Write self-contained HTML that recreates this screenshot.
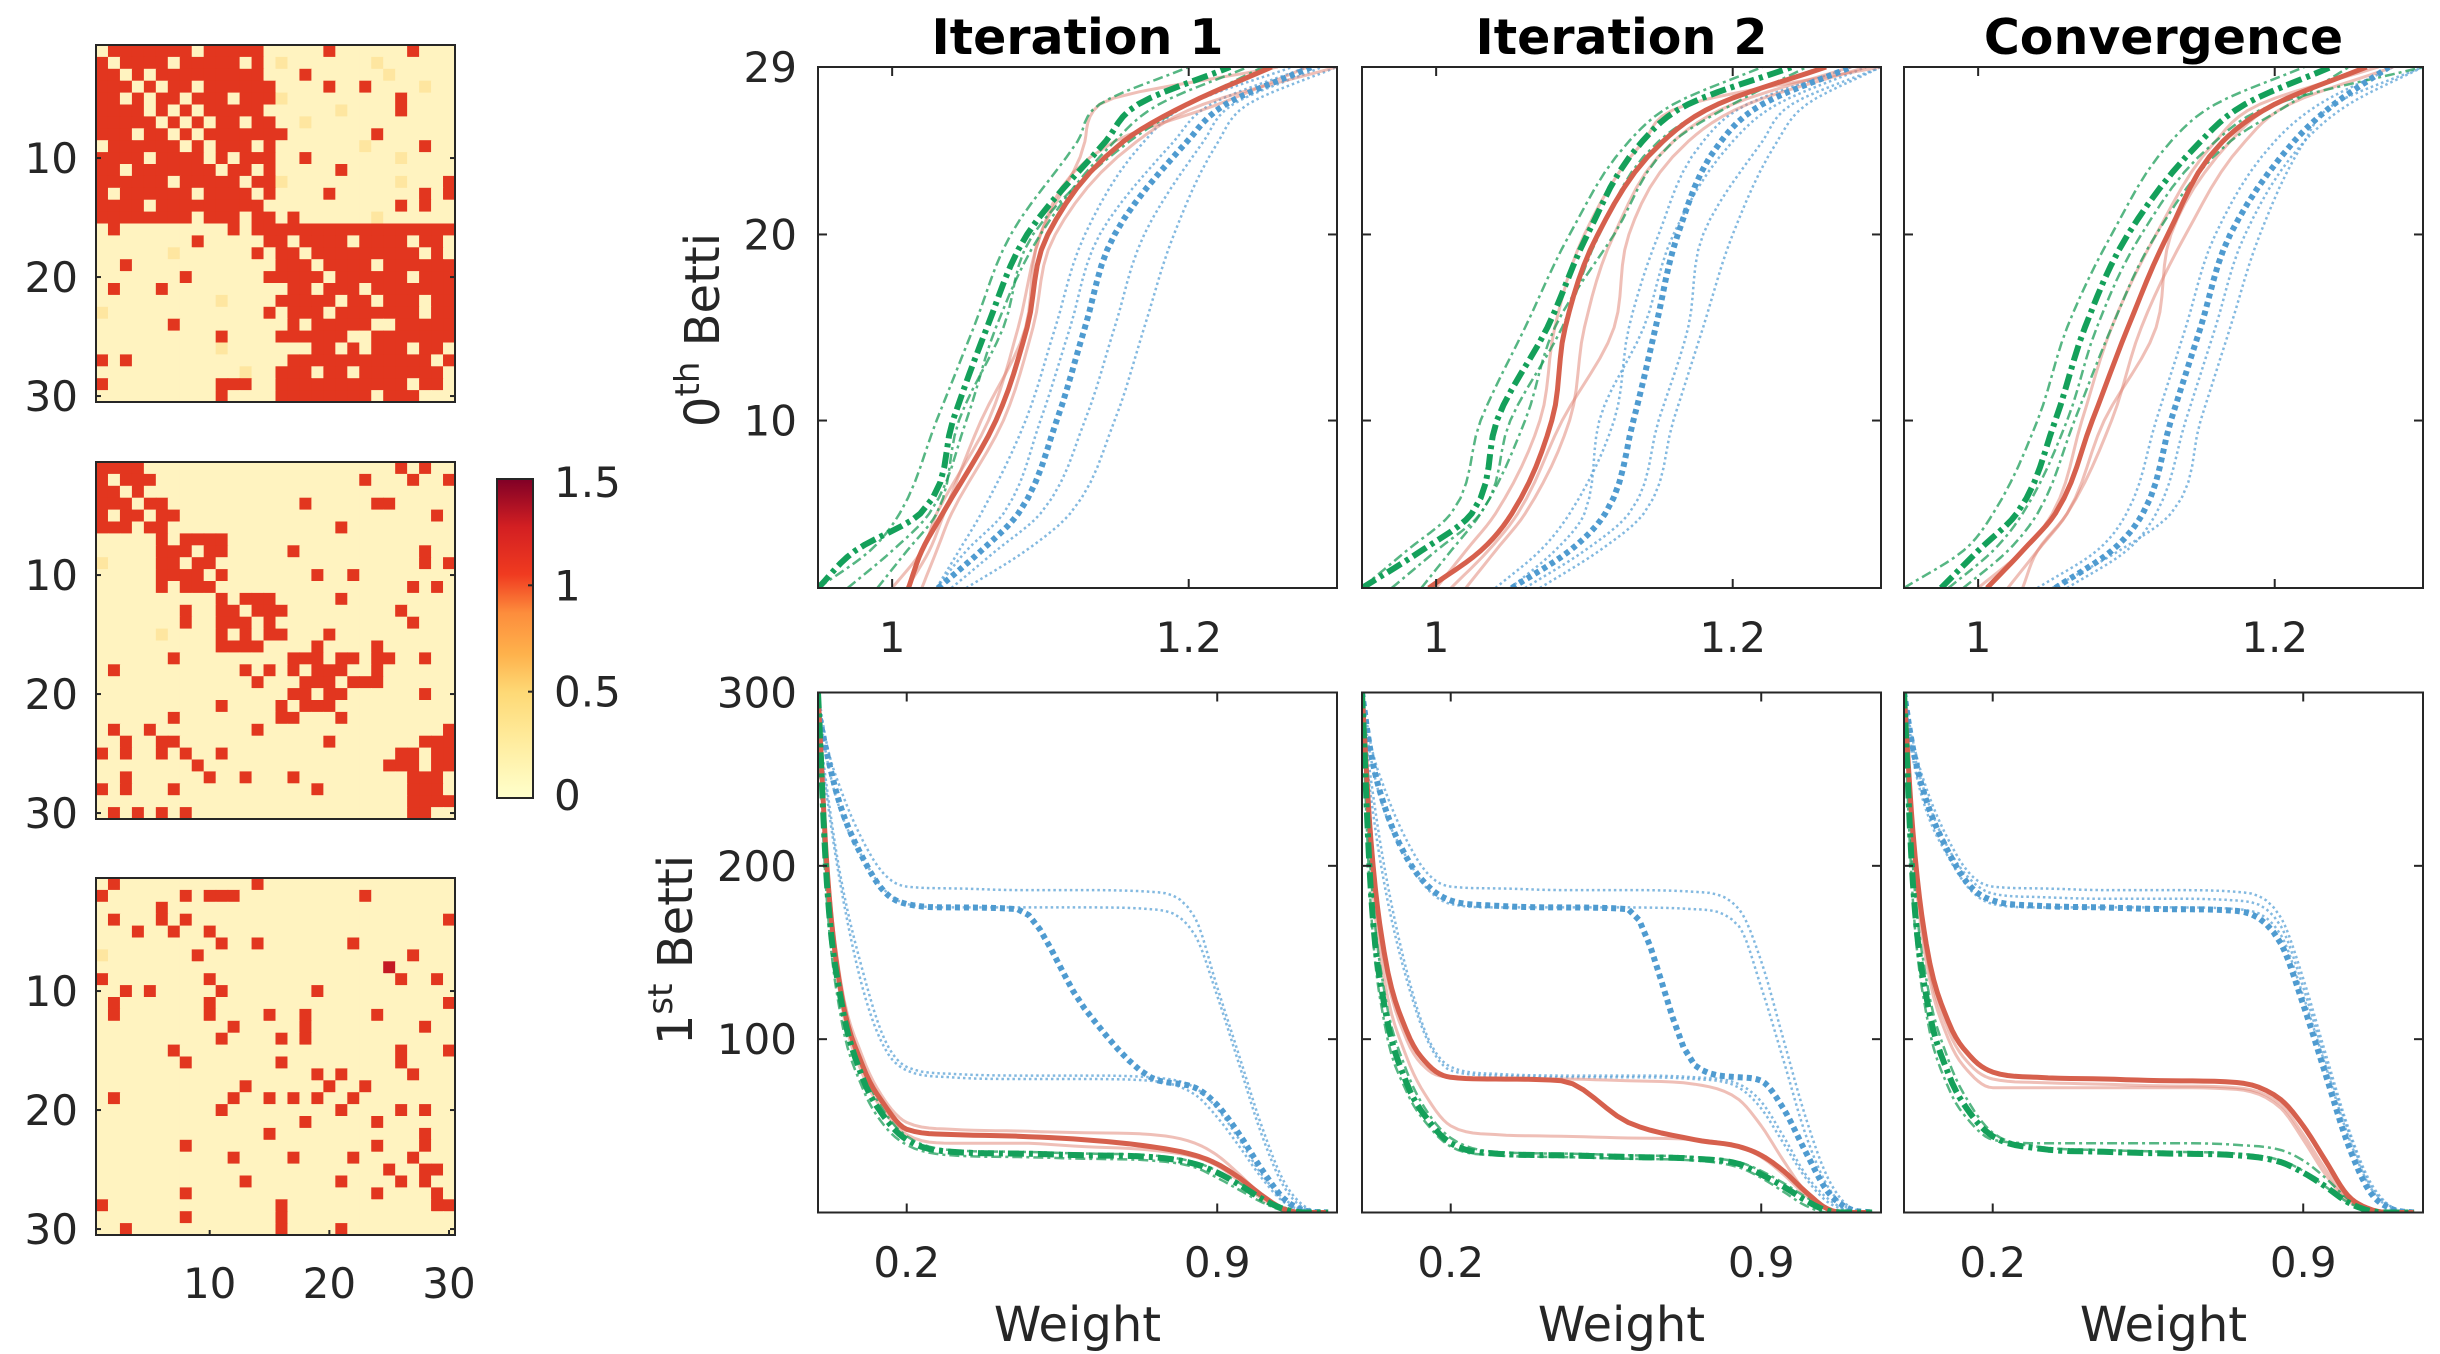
<!DOCTYPE html>
<html><head><meta charset="utf-8">
<style>
html,body{margin:0;padding:0;background:#fff;}
svg{display:block;}
text{font-family:"DejaVu Sans","Liberation Sans",sans-serif;fill:#262626;}
.t{font-family:"DejaVu Sans","Liberation Sans",sans-serif;font-weight:bold;fill:#000;font-size:49px;}
</style></head>
<body>
<svg id="fig" width="2440" height="1354" viewBox="0 0 2440 1354" xmlns="http://www.w3.org/2000/svg"></svg>
<script>
// ---------------- heatmap data (levels: . pale, : light, r red, R dark red) ----------------
const hm1Rows = [
".rrrrrrr.rrrrr.....r......r..","r.rrrr.rrrrr.r.:.......:......","rr.r.rrrrrrrrr...r......:.....","rrr.r.rr.rrrrrr....r..r....:..",
"rr.r.rr.rrr.rrr:.........r....","rrrr.r.r.rrrrr......:....r....","rrrrr.r.r.rr.rr..:............","rrr.rr.r.rrrrrrr.......r......",
".rrrrrr.r.rrr.r.......:....r..","rrrr.rrrr.r.rrr..r.......:....","rr.rrrrrrr.rr.r.....r.........","rrrrrr.rrrrr.rr:.........:...r.",
"r.rrrrrr.rrrr.r....r.......r.r","rrrr.rrrrrrrrr...........r.r..","rrrrrrrr.rrr.rr.r......:......",".r.........r.rrrrrrrrrrrrrrrrr",
"........r.....rr.rrrr.rrrr.rr","......:......r.rr.rrrrrrrrr.r.","..r............rrr.rrrr.rrrrrr",".......r......rrrrr.rrrrrr.rrr",
".r...r..........rr.rrr.rrrrrrrr","..........:....rrrrr.rr.rrr.rr",":.............r.rrr.rrrrrrr.rrr","......r.........r.rrrrr..rrrrr.",
"..........r....rrrrrr..rrrrrrr","..........:.......rr.r.rrr.rr.rrr","r.r.............rrrrrrrrrrrr.rr","............:..rrr.rr.rrrrrrr.",
"r.........rrr..rrrrrrrrrrr.rr.r","..........r....rrrrrrrr.rrr.."];
const hm2Rows = [
"rrrr.....................r.r","r.rrr.................r...r..r","rr.r..........................","rrr.rr...........r.....rr....",
"r.rr.rr.....................r....r","rrr.rr..............r.........",".....r.rrrr...................",".....rrr.rr.....r..........r...",
":....rr.rr.................r.rr",".....rrrr.r.......r..r.........",".....r.rrr................r.r.","..........r.rrr.....r.........",
".......r..rr.rrr.........r....",".......r..rrr.r...........r...",".....:....r.r.rr...r..........","..........rrrr....r....r......",
"......r.........rrr.rr.rr..r..",".r..........r.r.r.rrr..r.....",".............r...rrr.rrr......","................rr.rr......r..",
"..........r....r.rrr..........","......r........rr...r.........",".r..r........r...............r","..r..rr............r.......rrrr",
"r.r..r.r..r..............rr.rr.","........r...............rrr.rr","..r......r..r...r.........rrr..r","r.r...r...........r.......rrr.rr",
"..........................rrrr.",".r.r.r.r..................rr..."];
const hm3Rows = [
".r...........r................","r......r.rrr..........r.......",".....r........................",".r...r.r.....................r",
"...r..r..r....................","..........r..r.......r........",":.......r.................r...","........................R.....",
"r........r...............r..r.","..r.r.....r.......r..........",".r.......r...................r",".r.......r....r..r.....r......",
"...........r.....r.........r..","..........r....r.r............","......r..................r...r",".......r.......r.........r....",
"..................r.r.....r....","............r......r..r.......",".r.........r..r.r.r..r........","..........r.........r....r.r...",
".................r.....r......","..............r............r..",".......r...............r...r..","...........r....r....r....r...",
"........................r..rr...","............r.......r....r.r..",".......r...............r....r.","r..............r............rr.",
".......r.......r..............r..r","..r............r....r........."];
const cbTicks = [0, 0.5, 1, 1.5];
const cbLabels = ["0", "0.5", "1", "1.5"];
const hmTickVals = [10, 20, 30];

// ---------------- Betti-0 (top) data ----------------
const b0Levels = [1, 3, 5, 10, 15, 20, 25, 27, 29];
const b0XTicks = [1, 1.2];
const b0XTickLabels = ["1", "1.2"];
const b0YTicks = [10, 20, 29];
const b0YTickLabels = ["10", "20", "29"];
const p1GreenMean = [0.95,0.975,1.019,1.041,1.064,1.091,1.144,1.166,1.228];
const p1GreenA = [0.95,0.985,1.005,1.03,1.055,1.08,1.125,1.14,1.2];
const p1GreenB = [0.97,1.0,1.025,1.05,1.07,1.1,1.15,1.18,1.24];
const p1GreenC = [0.99,1.01,1.03,1.045,1.075,1.095,1.16,1.2,1.25];
const p1RedMean = [1.011,1.02,1.034,1.07,1.091,1.105,1.156,1.199,1.256];
const p1RedA = [1.0,1.02,1.03,1.065,1.085,1.1,1.13,1.14,1.26];
const p1RedB = [1.02,1.03,1.04,1.075,1.095,1.11,1.165,1.21,1.3];
const p1RedC = [1.01,1.025,1.035,1.06,1.09,1.1,1.15,1.22,1.28];
const p1BlueMean = [1.031,1.06,1.085,1.111,1.13,1.15,1.199,1.225,1.283];
const p1BlueA = [1.03,1.045,1.06,1.09,1.11,1.13,1.17,1.2,1.27];
const p1BlueB = [1.04,1.07,1.1,1.13,1.15,1.17,1.21,1.23,1.29];
const p1BlueC = [1.05,1.09,1.12,1.15,1.17,1.19,1.22,1.24,1.3];
const p1BlueD = [1.03,1.05,1.075,1.1,1.12,1.14,1.19,1.215,1.28];
const p2GreenMean = [0.95,0.99,1.024,1.041,1.075,1.102,1.139,1.17,1.24];
const p2GreenA = [0.95,0.98,1.01,1.03,1.06,1.09,1.13,1.16,1.22];
const p2GreenB = [0.97,1.0,1.03,1.05,1.085,1.11,1.15,1.19,1.26];
const p2GreenC = [0.99,1.01,1.03,1.06,1.08,1.12,1.16,1.2,1.25];
const p2RedMean = [0.995,1.03,1.051,1.078,1.087,1.109,1.153,1.19,1.263];
const p2RedA = [1.0,1.02,1.04,1.07,1.08,1.1,1.14,1.17,1.3];
const p2RedB = [1.02,1.04,1.06,1.09,1.1,1.12,1.16,1.2,1.28];
const p2RedC = [1.01,1.035,1.055,1.085,1.12,1.13,1.17,1.21,1.29];
const p2BlueMean = [1.051,1.09,1.114,1.133,1.148,1.163,1.192,1.22,1.28];
const p2BlueA = [1.04,1.07,1.09,1.12,1.13,1.15,1.18,1.21,1.28];
const p2BlueB = [1.06,1.1,1.13,1.15,1.17,1.18,1.22,1.24,1.3];
const p2BlueC = [1.05,1.08,1.1,1.11,1.14,1.16,1.2,1.23,1.29];
const p2BlueD = [1.07,1.11,1.14,1.16,1.18,1.2,1.23,1.25,1.3];
const p3GreenMean = [0.975,1.0,1.026,1.052,1.072,1.101,1.15,1.18,1.238];
const p3GreenA = [0.95,0.99,1.01,1.04,1.06,1.09,1.13,1.16,1.22];
const p3GreenB = [0.98,1.01,1.03,1.06,1.08,1.11,1.16,1.2,1.3];
const p3GreenC = [0.99,1.02,1.04,1.065,1.09,1.12,1.17,1.21,1.25];
const p3RedMean = [1.006,1.03,1.052,1.077,1.101,1.128,1.165,1.2,1.262];
const p3RedA = [1.0,1.03,1.05,1.07,1.09,1.12,1.16,1.19,1.27];
const p3RedB = [1.03,1.04,1.06,1.09,1.11,1.14,1.18,1.21,1.28];
const p3RedC = [1.02,1.04,1.06,1.085,1.12,1.13,1.17,1.2,1.26];
const p3BlueMean = [1.052,1.09,1.111,1.13,1.15,1.17,1.213,1.24,1.277];
const p3BlueA = [1.04,1.08,1.1,1.12,1.14,1.16,1.2,1.23,1.28];
const p3BlueB = [1.06,1.1,1.12,1.14,1.16,1.18,1.22,1.25,1.3];
const p3BlueC = [1.05,1.095,1.13,1.15,1.17,1.19,1.22,1.24,1.3];

// ---------------- Betti-1 (bottom) data ----------------
const b1Weights = [0,0.02,0.05,0.1,0.15,0.2,0.3,0.45,0.6,0.75,0.85,0.9,0.95,1.0,1.05,1.1,1.15];
const b1XTicks = [0.2, 0.9];
const b1XTickLabels = ["0.2", "0.9"];
const b1YTicks = [100, 200, 300];
const b1YTickLabels = ["100", "200", "300"];
const q1GreenMean = [300,190,125,78,55,42,35,34,33,32,28,23,16,8,2,0,0];
const q1GreenA = [280,180,115,72,50,39,33,32,31,30,26,20,13,6,1,0,0];
const q1GreenB = [300,200,132,84,58,44,36,35,34,33,29,24,17,9,3,0,0];
const q1RedMean = [300,200,130,85,62,48,45,44,42,38,33,28,20,10,2,0,0];
const q1RedA = [300,205,135,90,65,52,48,47,46,45,40,33,22,10,2,0,0];
const q1RedB = [290,195,125,80,58,45,40,40,38,36,32,27,18,8,1,0,0];
const q1BlueMean = [290,265,235,205,185,178,176,175,118,78,72,62,45,25,8,1,0];
const q1BlueA = [300,270,245,215,195,188,187,186,186,185,170,130,90,50,18,3,0];
const q1BlueB = [295,262,232,205,186,178,176,176,176,175,160,125,85,45,15,2,0];
const q1BlueC = [280,240,190,130,95,82,78,77,77,76,68,55,38,20,6,1,0];
const q1BlueD = [285,245,195,140,100,84,80,79,79,78,72,60,42,22,8,1,0];
const q2GreenMean = [300,185,120,75,53,40,34,33,32,31,28,22,15,7,1,0,0];
const q2GreenA = [290,175,110,70,50,38,33,32,31,30,26,20,12,4,0,0,0];
const q2GreenB = [300,195,128,82,57,43,35,34,33,32,29,24,17,9,2,0,0];
const q2RedMean = [300,215,150,105,85,78,77,76,52,42,38,33,24,12,2,0,0];
const q2RedA = [300,210,145,100,82,78,77,77,76,74,65,50,30,12,2,0,0];
const q2RedB = [295,200,135,90,65,50,45,44,43,42,38,32,22,10,2,0,0];
const q2BlueMean = [300,265,235,205,188,180,177,176,175,85,78,76,60,35,12,2,0];
const q2BlueA = [300,270,245,215,195,188,187,186,186,185,175,145,100,55,20,3,0];
const q2BlueB = [295,262,232,205,186,178,176,176,176,175,165,130,88,45,15,2,0];
const q2BlueC = [285,240,190,135,98,82,79,78,78,77,72,60,40,20,6,1,0];
const q2BlueD = [290,250,200,140,100,84,80,79,79,78,74,64,44,22,8,1,0];
const q3GreenMean = [300,190,125,80,57,44,37,35,34,33,29,23,15,6,1,0,0];
const q3GreenA = [290,180,115,72,52,42,40,40,40,39,36,30,20,8,1,0,0];
const q3GreenB = [300,200,135,88,62,46,38,36,35,34,30,24,15,6,1,0,0];
const q3RedMean = [300,220,155,110,90,81,78,77,76,75,65,50,30,10,2,0,0];
const q3RedA = [300,215,150,105,85,77,75,74,73,72,62,45,25,8,1,0,0];
const q3RedB = [295,210,145,100,80,72,72,72,72,71,60,42,22,7,1,0,0];
const q3BlueMean = [300,268,238,208,188,180,177,176,175,174,155,120,80,40,12,2,0];
const q3BlueA = [300,272,245,215,195,188,187,186,186,185,170,135,92,50,18,3,0];
const q3BlueB = [295,262,232,205,186,178,176,176,176,175,160,125,85,45,15,2,0];
const q3BlueC = [298,268,240,210,192,184,182,181,181,180,165,130,88,48,16,3,0];

const titles = ["Iteration 1", "Iteration 2", "Convergence"];

// ---------------- rendering ----------------
const NS = "http://www.w3.org/2000/svg";
const svg = document.getElementById("fig");
function mk(tag, attrs, parent) {
  const e = document.createElementNS(NS, tag);
  for (const k in attrs) e.setAttribute(k, attrs[k]);
  (parent || svg).appendChild(e);
  return e;
}
// monotone cubic interpolation (Fritsch-Carlson); xs increasing
function monoSample(xs, ys, steps) {
  const n = xs.length, d = [], m = new Array(n);
  for (let i = 0; i < n - 1; i++) d.push((ys[i + 1] - ys[i]) / (xs[i + 1] - xs[i]));
  m[0] = d[0]; m[n - 1] = d[n - 2];
  for (let i = 1; i < n - 1; i++) m[i] = (d[i - 1] * d[i] <= 0) ? 0 : (d[i - 1] + d[i]) / 2;
  for (let i = 0; i < n - 1; i++) {
    if (d[i] === 0) { m[i] = 0; m[i + 1] = 0; continue; }
    const a = m[i] / d[i], b = m[i + 1] / d[i], s = a * a + b * b;
    if (s > 9) { const t = 3 / Math.sqrt(s); m[i] = t * a * d[i]; m[i + 1] = t * b * d[i]; }
  }
  const out = [];
  for (let i = 0; i < n - 1; i++) {
    const h = xs[i + 1] - xs[i];
    for (let k = 0; k < steps; k++) {
      const t = k / steps, t2 = t * t, t3 = t2 * t;
      const y = (2 * t3 - 3 * t2 + 1) * ys[i] + (t3 - 2 * t2 + t) * h * m[i] + (-2 * t3 + 3 * t2) * ys[i + 1] + (t3 - t2) * h * m[i + 1];
      out.push([xs[i] + t * h, y]);
    }
  }
  out.push([xs[n - 1], ys[n - 1]]);
  return out;
}
const cellColor = {".": "#fff3c0", ":": "#fee6a0", "r": "#e2361f", "R": "#c41a24"};
const hmTops = [45, 462, 878];
const hmRowsAll = [hm1Rows, hm2Rows, hm3Rows];
const HM_L = 96, HM_W = 359, HM_H = 357;
hmRowsAll.forEach((rows, hi) => {
  const g = mk("g", {});
  
  
  const top = hmTops[hi], cw = HM_W / 30, ch = HM_H / 30;
  for (let r = 0; r < 30; r++) {
    const row = (rows[r] || "").replace(/\s/g, "");
    for (let c = 0; c < 30; c++) {
      const ch0 = row[c] || ".";
      const rc = mk("rect", {x: (HM_L + c * cw).toFixed(2), y: (top + r * ch).toFixed(2), width: (cw + 0.6).toFixed(2), height: (ch + 0.6).toFixed(2), fill: cellColor[ch0] || cellColor["."]}, g);
      
      
    }
  }
  const box = mk("rect", {x: HM_L, y: top, width: HM_W, height: HM_H, fill: "none", stroke: "#262626", "stroke-width": 2}, g);
  
  
  hmTickVals.forEach(v => {
    const y = top + (v - 0.5) * ch;
    mk("line", {x1: HM_L, x2: HM_L + 5, y1: y, y2: y, stroke: "#262626", "stroke-width": 2}, g);
    mk("line", {x1: HM_L + HM_W, x2: HM_L + HM_W - 5, y1: y, y2: y, stroke: "#262626", "stroke-width": 2}, g);
    const t = mk("text", {x: 78, y: y + 15, "text-anchor": "end", "font-size": 42}, g);
    t.textContent = String(v);
    
    
  });
  if (hi === 2) {
    hmTickVals.forEach(v => {
      const x = HM_L + (v - 0.5) * cw;
      mk("line", {x1: x, x2: x, y1: top + HM_H, y2: top + HM_H - 5, stroke: "#262626", "stroke-width": 2}, g);
      const t = mk("text", {x: x, y: 1298, "text-anchor": "middle", "font-size": 42}, g);
      t.textContent = String(v);
      
      
    });
  }
});
const defs = mk("defs", {});
const grad = mk("linearGradient", {id: "ylorrd", x1: 0, y1: 1, x2: 0, y2: 0}, defs);
[["0", "#ffffcc"], ["0.17", "#ffeda0"], ["0.33", "#fed976"], ["0.45", "#feb24c"], ["0.58", "#fd8d3c"], ["0.7", "#f03b20"], ["0.85", "#d31f22"], ["1", "#800026"]].forEach(s => mk("stop", {offset: s[0], "stop-color": s[1]}, grad));
const CB_T = 479, CB_B = 798, CB_L = 497, CB_W = 36;
const cb = mk("rect", {x: CB_L, y: CB_T, width: CB_W, height: CB_B - CB_T, fill: "url(#ylorrd)", stroke: "#262626", "stroke-width": 2});


cbTicks.forEach((v, i) => {
  const y = CB_B - v / 1.5 * (CB_B - CB_T);
  mk("line", {x1: CB_L + CB_W, x2: CB_L + CB_W - 5, y1: y, y2: y, stroke: "#262626", "stroke-width": 2});
  const t = mk("text", {x: 554, y: y + 15 + (i === 0 ? -3 : 0) + (i === 3 ? 3 : 0), "font-size": 42});
  t.textContent = cbLabels[i];
  
  
});

const styles = {
  gm: {stroke: "#14a05a", "stroke-width": 6, "stroke-dasharray": "16,5,4,5", opacity: 1},
  gt: {stroke: "#1e9e5a", "stroke-width": 2.5, "stroke-dasharray": "10,4,3,4", opacity: 0.75},
  rm: {stroke: "#d6604d", "stroke-width": 5, opacity: 1},
  rt: {stroke: "#e08070", "stroke-width": 3, opacity: 0.5},
  bm: {stroke: "#4f9bd0", "stroke-width": 6, "stroke-dasharray": "5,4", opacity: 1},
  bt: {stroke: "#5aa2d6", "stroke-width": 2.5, "stroke-dasharray": "2.5,3", opacity: 0.75}
};
const PANEL_L = [818, 1362, 1904], PANEL_W = 519;
const TOP_T = 67, TOP_B = 588, BOT_T = 692.5, BOT_B = 1212.5;

const topSeries = [
  [[p1BlueA,"bt"],[p1BlueB,"bt"],[p1BlueC,"bt"],[p1BlueD,"bt"],[p1RedA,"rt"],[p1RedB,"rt"],[p1RedC,"rt"],[p1GreenA,"gt"],[p1GreenB,"gt"],[p1GreenC,"gt"],[p1BlueMean,"bm"],[p1RedMean,"rm"],[p1GreenMean,"gm"]],
  [[p2BlueA,"bt"],[p2BlueB,"bt"],[p2BlueC,"bt"],[p2BlueD,"bt"],[p2RedA,"rt"],[p2RedB,"rt"],[p2RedC,"rt"],[p2GreenA,"gt"],[p2GreenB,"gt"],[p2GreenC,"gt"],[p2BlueMean,"bm"],[p2RedMean,"rm"],[p2GreenMean,"gm"]],
  [[p3BlueA,"bt"],[p3BlueB,"bt"],[p3BlueC,"bt"],[p3RedA,"rt"],[p3RedB,"rt"],[p3RedC,"rt"],[p3GreenA,"gt"],[p3GreenB,"gt"],[p3GreenC,"gt"],[p3BlueMean,"bm"],[p3RedMean,"rm"],[p3GreenMean,"gm"]]
];
const botSeries = [
  [[q1BlueA,"bt"],[q1BlueB,"bt"],[q1BlueC,"bt"],[q1BlueD,"bt"],[q1RedA,"rt"],[q1RedB,"rt"],[q1GreenA,"gt"],[q1GreenB,"gt"],[q1BlueMean,"bm"],[q1RedMean,"rm"],[q1GreenMean,"gm"]],
  [[q2BlueA,"bt"],[q2BlueB,"bt"],[q2BlueC,"bt"],[q2BlueD,"bt"],[q2RedA,"rt"],[q2RedB,"rt"],[q2GreenA,"gt"],[q2GreenB,"gt"],[q2BlueMean,"bm"],[q2RedMean,"rm"],[q2GreenMean,"gm"]],
  [[q3BlueA,"bt"],[q3BlueB,"bt"],[q3BlueC,"bt"],[q3RedA,"rt"],[q3RedB,"rt"],[q3GreenA,"gt"],[q3GreenB,"gt"],[q3BlueMean,"bm"],[q3RedMean,"rm"],[q3GreenMean,"gm"]]
];
const seriesName = {gm: "random-mean-line", gt: "random-sample-line", rm: "modular-mean-line", rt: "modular-sample-line", bm: "block-mean-line", bt: "block-sample-line"};

function axesFrame(L, T, B, name) {
  const r = mk("rect", {x: L, y: T, width: PANEL_W, height: B - T, fill: "none", stroke: "#262626", "stroke-width": 2});
  
  
}
for (let p = 0; p < 3; p++) {
  const L = PANEL_L[p];
  const sxT = x => L + (x - 0.95) / 0.35 * PANEL_W;
  const syT = v => TOP_T + (29 - v) / 28 * (TOP_B - TOP_T);
  mk("rect", {x: L, y: TOP_T, width: PANEL_W, height: TOP_B - TOP_T}, mk("clipPath", {id: "ct" + p}, defs));
  const gT = mk("g", {"clip-path": "url(#ct" + p + ")", fill: "none"});
  
  
  topSeries[p].forEach(s => {
    const pts = monoSample(b0Levels, s[0], 6).map(q => sxT(q[1]).toFixed(1) + "," + syT(q[0]).toFixed(1)).join(" ");
    const pl = mk("polyline", Object.assign({points: pts, fill: "none", "stroke-linejoin": "round"}, styles[s[1]]), gT);
    
    
  });
  axesFrame(L, TOP_T, TOP_B, 'betti0-axes-' + (p + 1));
  b0XTicks.forEach((v, i) => {
    const x = sxT(v);
    mk("line", {x1: x, x2: x, y1: TOP_B, y2: TOP_B - 9, stroke: "#262626", "stroke-width": 2});
    mk("line", {x1: x, x2: x, y1: TOP_T, y2: TOP_T + 9, stroke: "#262626", "stroke-width": 2});
    const t = mk("text", {x: x, y: 652, "text-anchor": "middle", "font-size": 42});
    t.textContent = b0XTickLabels[i];
    
    
  });
  b0YTicks.forEach((v, i) => {
    const y = syT(v);
    mk("line", {x1: L, x2: L + 9, y1: y, y2: y, stroke: "#262626", "stroke-width": 2});
    mk("line", {x1: L + PANEL_W, x2: L + PANEL_W - 9, y1: y, y2: y, stroke: "#262626", "stroke-width": 2});
    if (p === 0) {
      const t = mk("text", {x: 797, y: y + 15, "text-anchor": "end", "font-size": 42});
      t.textContent = b0YTickLabels[i];
      
      
    }
  });
  const tt = mk("text", {x: L + PANEL_W / 2, y: 54, "text-anchor": "middle", class: "t"});
  tt.textContent = titles[p];
  
  

  const sxB = x => L + x / 1.17 * PANEL_W;
  const syB = v => BOT_B - v / 300 * (BOT_B - BOT_T);
  mk("rect", {x: L, y: BOT_T, width: PANEL_W, height: BOT_B - BOT_T}, mk("clipPath", {id: "cb" + p}, defs));
  const gB = mk("g", {"clip-path": "url(#cb" + p + ")", fill: "none"});
  
  
  botSeries[p].forEach(s => {
    const pts = monoSample(b1Weights, s[0], 6).map(q => sxB(q[0]).toFixed(1) + "," + syB(q[1]).toFixed(1)).join(" ");
    const pl = mk("polyline", Object.assign({points: pts, fill: "none", "stroke-linejoin": "round"}, styles[s[1]]), gB);
    
    
  });
  axesFrame(L, BOT_T, BOT_B, 'betti1-axes-' + (p + 1));
  b1XTicks.forEach((v, i) => {
    const x = sxB(v);
    mk("line", {x1: x, x2: x, y1: BOT_B, y2: BOT_B - 9, stroke: "#262626", "stroke-width": 2});
    mk("line", {x1: x, x2: x, y1: BOT_T, y2: BOT_T + 9, stroke: "#262626", "stroke-width": 2});
    const t = mk("text", {x: x, y: 1277, "text-anchor": "middle", "font-size": 42});
    t.textContent = b1XTickLabels[i];
    
    
  });
  b1YTicks.forEach((v, i) => {
    const y = syB(v);
    mk("line", {x1: L, x2: L + 9, y1: y, y2: y, stroke: "#262626", "stroke-width": 2});
    mk("line", {x1: L + PANEL_W, x2: L + PANEL_W - 9, y1: y, y2: y, stroke: "#262626", "stroke-width": 2});
    if (p === 0) {
      const t = mk("text", {x: 797, y: y + 15, "text-anchor": "end", "font-size": 42});
      t.textContent = b1YTickLabels[i];
      
      
    }
  });
  const xl = mk("text", {x: L + PANEL_W / 2, y: 1341, "text-anchor": "middle", "font-size": 48});
  xl.textContent = "Weight";
  
  
}
function yTitle(x, y, sup, name) {
  const t = mk("text", {transform: "translate(" + x + "," + y + ") rotate(-90)", "text-anchor": "middle", "font-size": 48});
  
  
  const a = mk("tspan", {}, t); a.textContent = sup[0];
  const b = mk("tspan", {"baseline-shift": "super", "font-size": 34}, t); b.textContent = sup[1];
  const c = mk("tspan", {}, t); c.textContent = " Betti";
}
yTitle(719, 330, ["0", "th"], "betti0-y-axis-title");
yTitle(692, 950, ["1", "st"], "betti1-y-axis-title");
</script>
</body></html>
